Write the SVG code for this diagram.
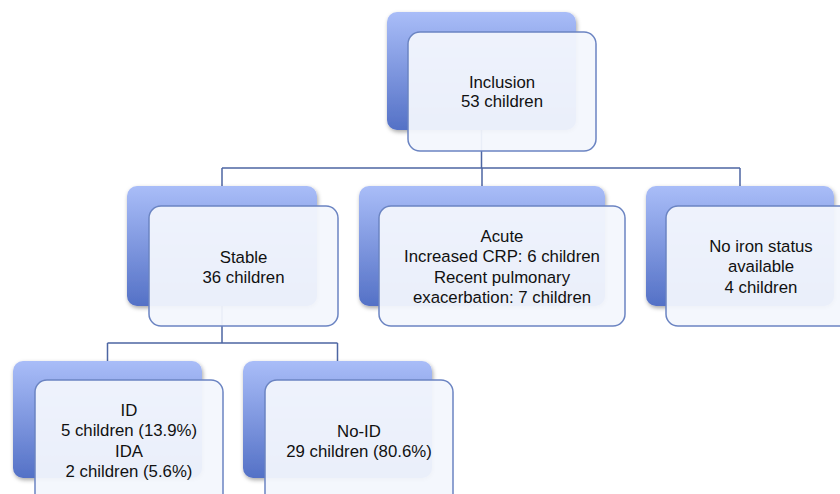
<svg xmlns="http://www.w3.org/2000/svg" width="840" height="494" viewBox="0 0 840 494">
<defs>
<linearGradient id="g" x1="0" y1="0" x2="0" y2="1">
<stop offset="0" stop-color="#a9bdf8"/>
<stop offset="1" stop-color="#5471c6"/>
</linearGradient>
<filter id="sh" x="-10%" y="-10%" width="125%" height="125%">
<feDropShadow dx="1" dy="2" stdDeviation="2" flood-color="#000" flood-opacity="0.35"/>
</filter>
<style>
.back{fill:url(#g);filter:url(#sh)}
.front{fill:#f3f6fd;fill-opacity:0.94;stroke:#6b84c2;stroke-width:1.5}
.conn{fill:none;stroke:#4d66a3;stroke-width:1.5}
text{font-family:"Liberation Sans",Arial,sans-serif;font-size:16.8px;fill:#111;text-anchor:middle}
</style>
</defs>
<rect width="840" height="494" fill="#fff"/>
<g id="connectors">
<path class="conn" d="M481.5 130 V168 M222 168 H740 M222 168 V186 M482 168 V186 M740 168 V186"/>
<path class="conn" d="M222 306 V343 M107.5 343 H337.5 M107.5 343 V361 M337.5 343 V361"/>
</g>
<g id="inclusion">
<rect class="back" x="387" y="12" width="189" height="118" rx="10"/>
<rect class="front" x="408" y="32" width="188" height="119" rx="12"/>
<text x="502" y="88">Inclusion</text>
<text x="502" y="107">53 children</text>
</g>
<g id="stable">
<rect class="back" x="127" y="186" width="190" height="120" rx="10"/>
<rect class="front" x="149" y="206" width="189" height="120" rx="12"/>
<text x="243.5" y="263">Stable</text>
<text x="243.5" y="283">36 children</text>
</g>
<g id="acute">
<rect class="back" x="359" y="186" width="246" height="120" rx="10"/>
<rect class="front" x="379" y="206" width="246" height="120" rx="12"/>
<text x="502" y="242">Acute</text>
<text x="502" y="262">Increased CRP: 6 children</text>
<text x="502" y="283">Recent pulmonary</text>
<text x="502" y="303">exacerbation: 7 children</text>
</g>
<g id="noiron">
<rect class="back" x="646" y="186" width="188" height="120" rx="10"/>
<rect class="front" x="666" y="206" width="190" height="120" rx="12"/>
<text x="761" y="252">No iron status</text>
<text x="761" y="272">available</text>
<text x="761" y="293">4 children</text>
</g>
<g id="id">
<rect class="back" x="13" y="361" width="189" height="117" rx="10"/>
<rect class="front" x="35" y="380" width="188" height="130" rx="12"/>
<text x="129" y="416">ID</text>
<text x="129" y="436">5 children (13.9%)</text>
<text x="129" y="457">IDA</text>
<text x="129" y="477">2 children (5.6%)</text>
</g>
<g id="noid">
<rect class="back" x="243" y="361" width="189" height="117" rx="10"/>
<rect class="front" x="265" y="380" width="188" height="130" rx="12"/>
<text x="359" y="437">No-ID</text>
<text x="359" y="457">29 children (80.6%)</text>
</g>
</svg>
